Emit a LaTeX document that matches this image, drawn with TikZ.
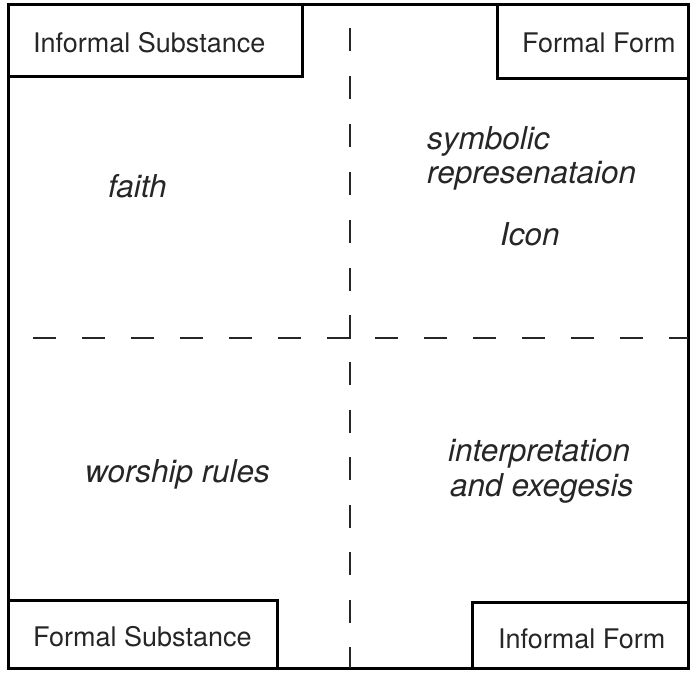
\documentclass[tikz,border=0pt]{standalone}
\usepackage{fontspec}
\setmainfont{TeX Gyre Heros}
\begin{document}
\begin{tikzpicture}[x=1pt,y=-1pt,
  frameline/.style={line width=3pt, draw=black},
  divider/.style={line width=2pt, draw=black!85},
  cornerlabel/.style={anchor=base west, inner sep=0pt, text=black!85,
    font=\fontsize{27}{32}\selectfont},
  content/.style={anchor=base west, inner sep=0pt, text=black!85,
    font=\fontsize{31.5}{36}\selectfont\itshape}]
  \useasboundingbox (0,0) rectangle (690,673);

  % outer frame
  \draw[frameline] (8,4) rectangle (688,668);

  % corner boxes
  \draw[frameline] (8,4) rectangle (302,76);
  \draw[frameline] (497,4) rectangle (688,78);
  \draw[frameline] (8,600) rectangle (277,668);
  \draw[frameline] (472,602) rectangle (688,668);

  % dashed dividers
  \coordinate (vtop) at (349.5,28);
  \coordinate (vmid) at (349.5,315);
  \coordinate (corner) at (349.5,337.5);
  \coordinate (hcl) at (327,337.5);
  \coordinate (hl0) at (33,337.5);
  \coordinate (hl1) at (302,337.5);
  \coordinate (hr0) at (375,337.5);
  \coordinate (hr1) at (688,337.5);
  \coordinate (vb0) at (349.5,362);
  \coordinate (vb1) at (349.5,668);
  \draw[divider, dash pattern=on 23pt off 25pt] (vtop) -- (vmid);
  \draw[divider] (hcl) -- (corner) -- (vmid);
  \draw[divider, dash pattern=on 23pt off 26pt] (hl0) -- (hl1);
  \draw[divider, dash pattern=on 23pt off 26pt] (hr0) -- (hr1);
  \draw[divider, dash pattern=on 23pt off 24.5pt] (vb0) -- (vb1);

  % box labels
  \node[cornerlabel] (infsub) at (33,52) {Informal Substance};
  \node[cornerlabel] (forform) at (522,52) {Formal Form};
  \node[cornerlabel] (forsub) at (33,646) {Formal Substance};
  \node[cornerlabel] (infform) at (498,648) {Informal Form};

  % quadrant contents
  \node[content] (faith) at (108,197) {faith};
  \node[content] (symb) at (427,149) {symbolic};
  \node[content] (repr) at (427,183) {represenataion};
  \node[content] (icon) at (500,245) {Icon};
  \node[content] (worship) at (85,482) {worship rules};
  \node[content] (interp) at (448,461) {interpretation};
  \node[content] (exeg) at (450,496) {and exegesis};
\end{tikzpicture}
\end{document}
